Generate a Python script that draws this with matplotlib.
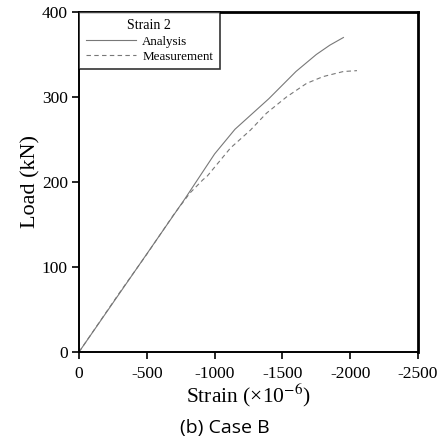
import matplotlib
matplotlib.use("Agg")
import matplotlib.pyplot as plt

analysis_strain = [0, -780, -1000, -1150, -1400, -1600, -1750, -1850, -1950]
analysis_load = [0, 180, 233, 262, 298, 330, 350, 361, 370]

meas_strain = [0, -300, -500, -700, -818, -916, -941, -1117, -1264, -1383, -1530, -1678, -1800, -1950, -2050]
meas_load = [0, 70, 115, 162, 187, 203, 206, 240, 261, 281, 300, 316, 324, 330, 331]

xticks = [0, -500, -1000, -1500, -2000, -2500]
yticks = [0, 100, 200, 300, 400]

plt.rcParams['font.family'] = ['Liberation Serif', 'DejaVu Serif']
plt.rcParams['mathtext.fontset'] = 'stix'

fig = plt.figure(figsize=(4.42, 4.43), dpi=100)
ax = fig.add_axes([79/442, 1-352/443, (418-79)/442, (352-12)/443])

ax.plot(analysis_strain, analysis_load, color='#787878', lw=0.8, label='Analysis')
ax.plot(meas_strain, meas_load, color='#787878', lw=0.8, ls=(0, (4, 3)), label='Measurement')

ax.set_xlim(0, -2500)
ax.set_ylim(0, 400)
ax.set_xticks(xticks)
ax.set_xticklabels([str(v) for v in xticks])
ax.set_yticks(yticks)
ax.tick_params(direction='out', length=5, width=1.2, labelsize=12.5, colors='black')
ax.tick_params(axis='x', pad=5)
ax.tick_params(axis='y', pad=3)
for s in ['left', 'bottom']:
    ax.spines[s].set_linewidth(1.4)
for s in ['top', 'right']:
    ax.spines[s].set_linewidth(2.0)

ax.set_xlabel('Strain (×10$^{-6}$)', fontsize=15.5, labelpad=0)
ax.set_ylabel('Load (kN)', fontsize=16, labelpad=1)

leg = ax.legend(title='Strain 2', loc='upper left', fontsize=9.4, title_fontsize=10,
                handlelength=3.9, frameon=True, fancybox=False, borderaxespad=0,
                borderpad=0.5, labelspacing=0.2, handletextpad=0.45)
leg.get_frame().set_edgecolor('black')
leg.get_frame().set_linewidth(1.2)
leg._legend_box.sep = 3

fig.text(225/442, 1-428/443, '(b) Case B', fontsize=14, family='Open Sans',
         ha='center', va='center')

fig.savefig('out.png', dpi=100)
